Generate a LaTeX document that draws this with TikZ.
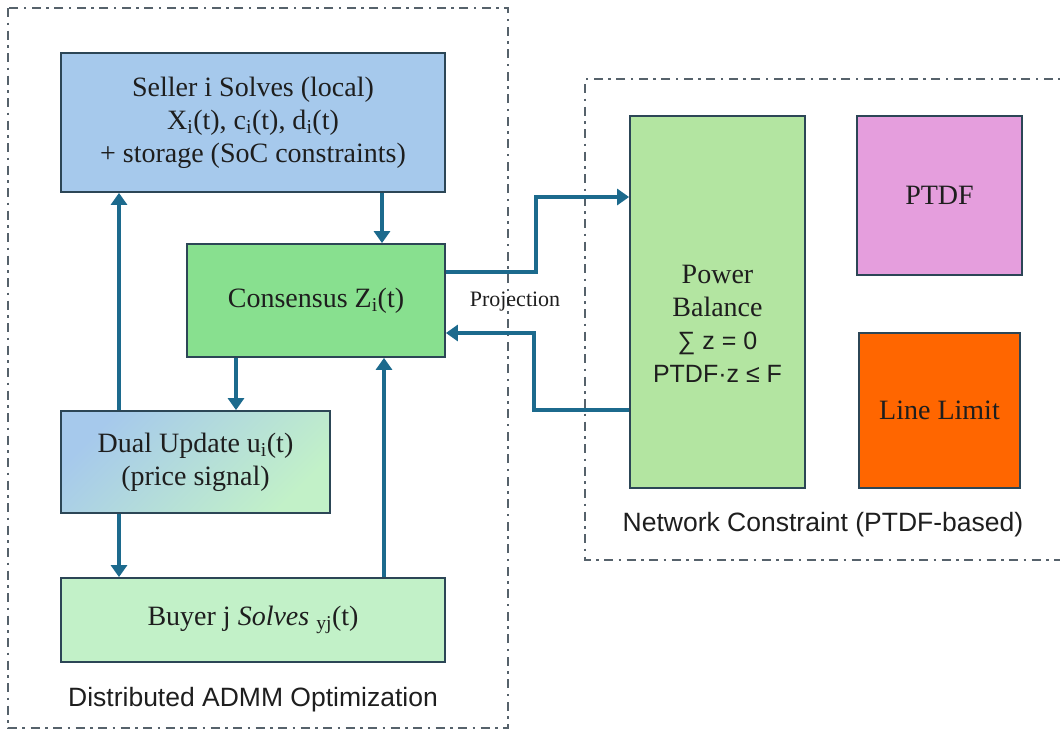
\documentclass[tikz,border=0pt]{standalone}
\usepackage{fontspec}
\setmainfont{Liberation Serif}
\newfontfamily\sansfam{Liberation Sans}
\usetikzlibrary{arrows.meta,calc}

\definecolor{sellerfill}{HTML}{A6C9EC}
\definecolor{consfill}{HTML}{88E08F}
\definecolor{buyerfill}{HTML}{C2F1C8}
\definecolor{powerfill}{HTML}{B3E5A1}
\definecolor{ptdffill}{HTML}{E59EDD}
\definecolor{limitfill}{HTML}{FF6600}
\definecolor{dualtop}{HTML}{A6C9EC}
\definecolor{dualbot}{HTML}{C2F1C8}
\definecolor{edgecol}{HTML}{2C4656}
\definecolor{flowcol}{HTML}{1C6A8D}
\definecolor{framecol}{HTML}{56626B}
\definecolor{textcol}{HTML}{1E1E1E}

\begin{document}
\begin{tikzpicture}[x=1pt,y=-1pt,
  box/.style={draw=edgecol, line width=1.8pt, inner sep=0pt, align=center,
              text=textcol, font=\fontsize{28}{33}\selectfont},
  flow/.style={draw=flowcol, line width=4pt,
               -{Triangle[width=16pt,length=12pt]}},
  frame/.style={draw=framecol, line width=2.2pt,
                dash pattern=on 9pt off 5.5pt on 2.5pt off 5.5pt},
  caption/.style={font=\sansfam\fontsize{26.5}{30}\selectfont, text=textcol}]
\useasboundingbox (0,0) rectangle (1060,731);

% group frames
\draw[frame] (8,8) rectangle (508,728);
\draw[frame] (1075,79) -- (585,79) -- (585,560) -- (1075,560);

% ADMM blocks
\node[box, fill=sellerfill, minimum width=384pt, minimum height=139pt]
  (seller) at (253,122.5)
  {Seller i Solves (local)\\
   X\textsubscript{i}(t), c\textsubscript{i}(t), d\textsubscript{i}(t)\\
   + storage (SoC constraints)};
\node[box, fill=consfill, minimum width=258pt, minimum height=113pt]
  (cons) at (316,300.5) {Consensus Z\textsubscript{i}(t)};
\node[box, top color=dualtop, bottom color=dualbot, shading angle=45,
      minimum width=269pt, minimum height=102pt]
  (dual) at (195.5,462) {Dual Update u\textsubscript{i}(t)\\(price signal)};
\node[box, fill=buyerfill, minimum width=384pt, minimum height=84pt]
  (buyer) at (253,620)
  {Buyer j \textit{Solves} \textsubscript{yj}(t)};

% network blocks (the balance text sits a little below the middle)
\node[box, fill=powerfill, minimum width=175pt, minimum height=372pt,
      label={[align=center, text=textcol, font=\fontsize{28}{33}\selectfont,
              yshift=-22pt]center:Power\\Balance\\
              {\sansfam\fontsize{25}{33}\selectfont ∑ z = 0}\\
              {\sansfam\fontsize{25}{33}\selectfont PTDF·z ≤ F}}]
  (pb) at (717.5,302) {};
\node[box, fill=ptdffill, minimum width=165pt, minimum height=159pt]
  (ptdf) at (939.5,195.5) {PTDF};
\node[box, fill=limitfill, minimum width=161pt, minimum height=155pt]
  (limit) at (939.5,410.5) {Line Limit};

% captions
\node[caption] (admmcap) at (253,700) {Distributed ADMM Optimization};
\node[caption] (netcap) at (823,525) {Network Constraint (PTDF-based)};
\node[text=textcol, font=\fontsize{22}{24}\selectfont] (proj) at (515,302) {Projection};

% ADMM iteration flow
\draw[flow] ([xshift=-76.5pt]dual.north) -- ([xshift=-76.5pt]dual.north |- seller.south);
\draw[flow] ([xshift=66pt]cons.north |- seller.south) -- ([xshift=66pt]cons.north);
\draw[flow] ([xshift=-80pt]cons.south) -- ([xshift=-80pt]cons.south |- dual.north);
\draw[flow] ([xshift=-76.5pt]dual.south) -- ([xshift=-76.5pt]dual.south |- buyer.north);
\draw[flow] ([xshift=68pt]cons.south |- buyer.north) -- ([xshift=68pt]cons.south);

% projection onto the network constraints
\draw[flow, line join=miter] ([yshift=28.5pt]cons.east) -- ++(90,0) |- ([yshift=105pt]pb.west);
\draw[flow, line join=miter] ([yshift=-108pt]pb.west) -- ++(-95,0) |- ([yshift=-32.5pt]cons.east);
\end{tikzpicture}
\end{document}
